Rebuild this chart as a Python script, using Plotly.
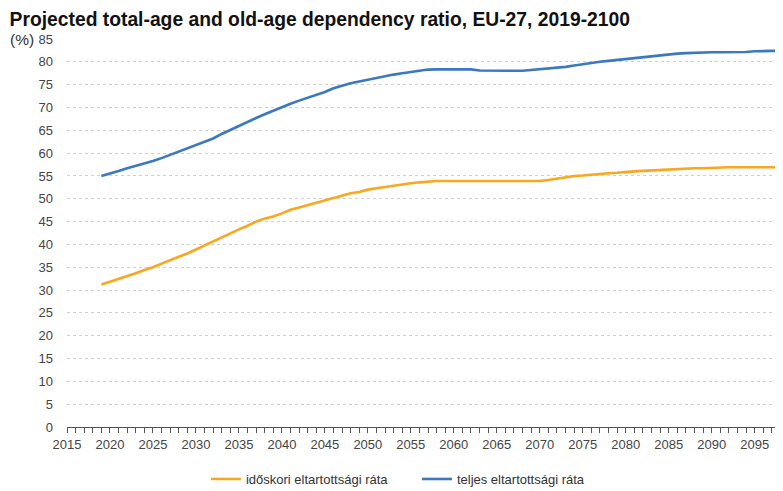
import plotly.graph_objects as go

years = list(range(2019, 2101))

old_age = [31.2, 31.8, 32.4, 33.0, 33.7, 34.4, 35.0, 35.8, 36.6, 37.3,
           38.0, 38.9, 39.8, 40.7, 41.6, 42.5, 43.3, 44.1, 45.0, 45.7,
           46.1, 46.8, 47.6, 48.1, 48.6, 49.1, 49.6, 50.2, 50.6, 51.2,
           51.5, 52.0, 52.3, 52.6, 52.9, 53.2, 53.4, 53.6, 53.8, 53.9,
           53.9, 53.9, 53.9, 53.9, 53.9, 53.9, 53.9, 53.9, 53.9, 53.9,
           53.9, 53.9, 54.1, 54.4, 54.7, 55.0, 55.1, 55.3, 55.4, 55.6,
           55.7, 55.9, 56.0, 56.1, 56.2, 56.4, 56.4, 56.5, 56.6, 56.7,
           56.7, 56.8, 56.8, 56.9, 56.9, 56.9, 56.9, 56.9, 56.9, 56.9,
           56.9, 56.9]

total = [55.0, 55.5, 56.1, 56.7, 57.2, 57.7, 58.3, 58.9, 59.6, 60.3,
         61.1, 61.8, 62.5, 63.2, 64.2, 65.1, 65.9, 66.9, 67.7, 68.5,
         69.3, 70.1, 70.8, 71.5, 72.1, 72.8, 73.4, 74.2, 74.8, 75.3,
         75.7, 76.1, 76.5, 76.9, 77.2, 77.5, 77.8, 78.0, 78.3, 78.35,
         78.35, 78.35, 78.35, 78.35, 78.1, 78.05, 78.05, 78.05, 78.05, 78.05,
         78.2, 78.3, 78.5, 78.7, 78.9, 79.2, 79.5, 79.7, 80.0, 80.2,
         80.4, 80.6, 80.9, 81.1, 81.3, 81.5, 81.6, 81.8, 81.9, 82.0,
         82.0, 82.1, 82.1, 82.1, 82.1, 82.15, 82.3, 82.4, 82.4, 82.4,
         82.4, 82.4]

series_names = ["időskori eltartottsági ráta", "teljes eltartottsági ráta"]
colors = ["#FBA61C", "#3A78C2"]

x_ticks = list(range(2015, 2100, 5))
y_ticks = list(range(0, 90, 5))

fig = go.Figure()
for name, vals, col in zip(series_names, [old_age, total], colors):
    fig.add_trace(go.Scatter(x=years, y=vals, mode="lines", name=name,
                             line=dict(color=col, width=2.6)))

# page body has an 8px margin, so the figure is sized to end at the window edge
fig.update_layout(
    width=775, height=483,
    margin=dict(l=59, r=0, t=31, b=64, autoexpand=False),
    paper_bgcolor="white", plot_bgcolor="white",
    font=dict(family="Liberation Sans, Arial, sans-serif", size=13, color="#444"),
    title=dict(text="<b>Projected total-age and old-age dependency ratio, EU-27, 2019-2100</b>",
               x=0.002, xanchor="left", xref="container",
               y=0.99, yanchor="top", yref="container",
               font=dict(size=19.3, color="#111")),
    showlegend=True,
    legend=dict(orientation="h", x=0.194, xanchor="left", xref="paper",
                y=0.0248, yanchor="middle", yref="container",
                font=dict(size=13, color="#333"),
                tracegroupgap=0, entrywidth=166),
    annotations=[dict(text="(%)", x=-0.0824, xref="paper", xanchor="left",
                      y=1.0, yref="paper", yanchor="middle", showarrow=False,
                      font=dict(size=15.5, color="#333"))],
)

fig.update_xaxes(range=[2015, 2098.3], tickvals=x_ticks, ticktext=[str(t) for t in x_ticks],
                 showgrid=False, showline=True, linecolor="#555", linewidth=1,
                 ticks="outside", ticklen=5, tickcolor="#555",
                 minor=dict(dtick=1, ticks="outside", ticklen=5, tickcolor="#555", showgrid=False),
                 tickfont=dict(size=13, color="#444"), zeroline=False)
fig.update_yaxes(range=[0, 85], tickvals=y_ticks, showgrid=True, gridcolor="#cfcfcf",
                 griddash="dot", gridwidth=1, zeroline=False, showline=False,
                 ticks="", tickfont=dict(size=13, color="#444"), ticklabelstandoff=13)

fig.write_html("out.html")
